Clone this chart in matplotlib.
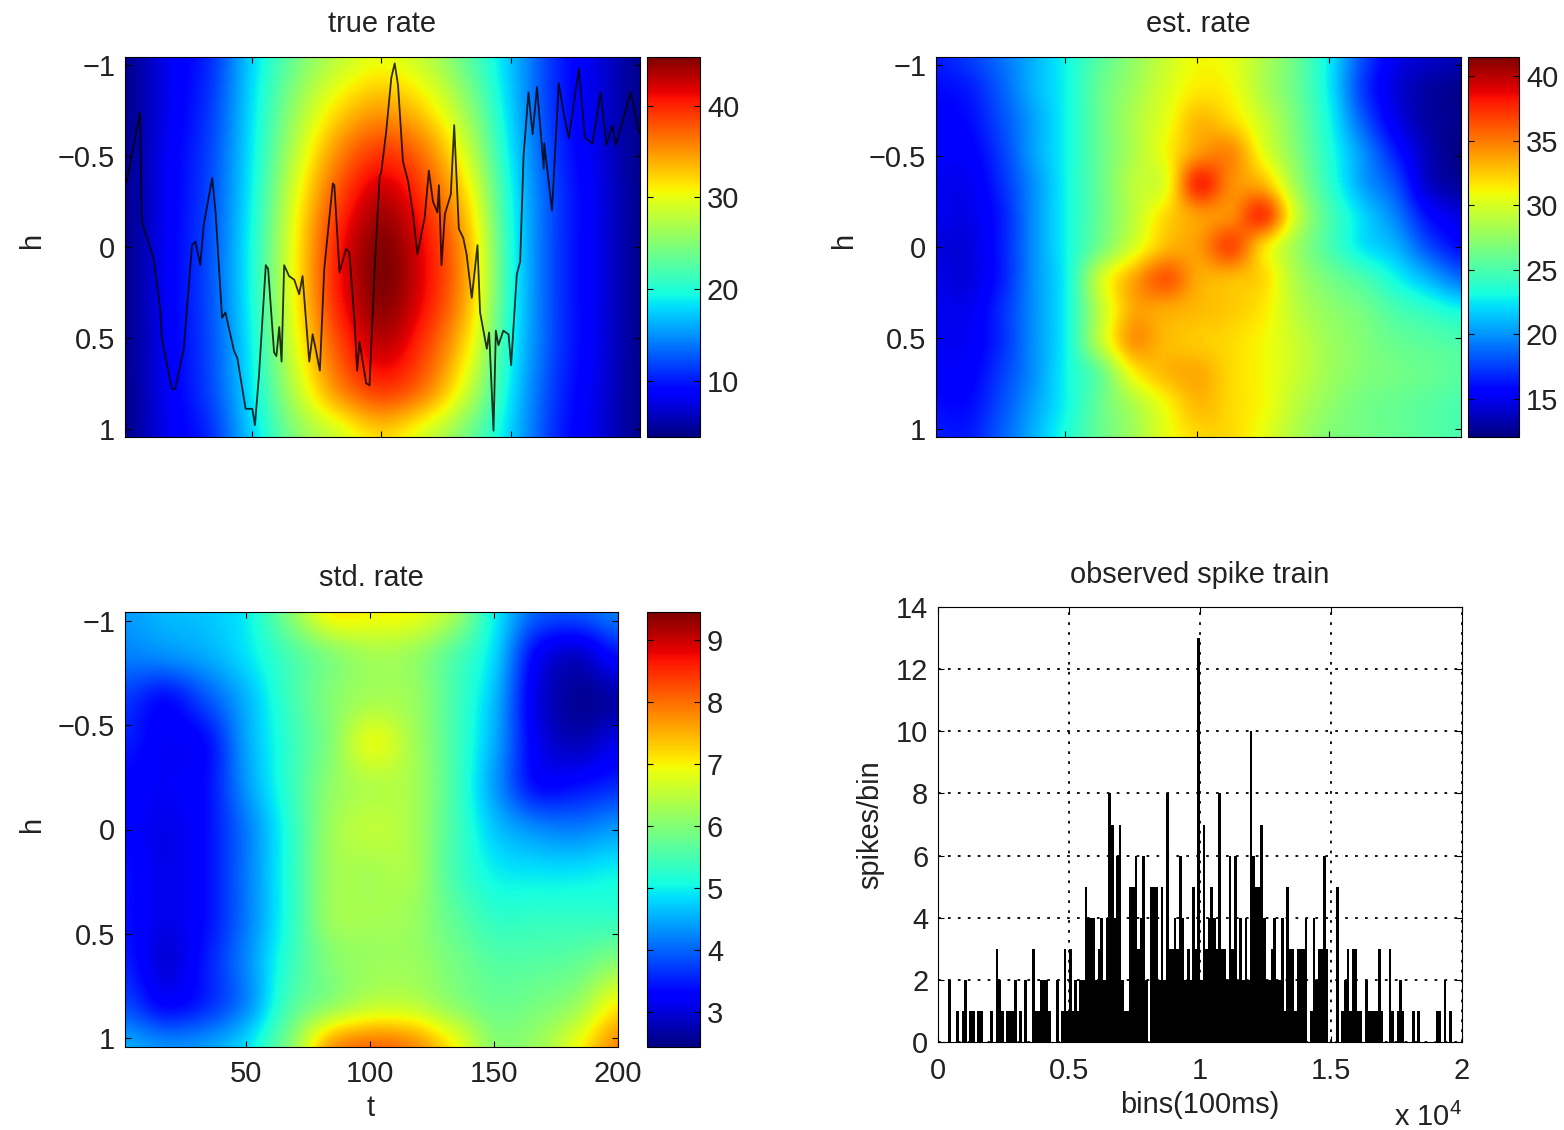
import numpy as np
import matplotlib
matplotlib.use('Agg')
import matplotlib.pyplot as plt
from matplotlib.colors import Normalize

plt.rcParams['font.family'] = ['Liberation Sans', 'DejaVu Sans']
plt.rcParams['mathtext.default'] = 'regular'
plt.rcParams['text.color'] = '#222222'
plt.rcParams['axes.labelcolor'] = '#222222'
plt.rcParams['xtick.labelcolor'] = '#222222'
plt.rcParams['ytick.labelcolor'] = '#222222'

# rate surfaces on a coarse grid
true_rate = [
    [4.5, 8.0, 11.0, 18.0, 24.0, 28.0, 30.0, 28.0, 23.0, 17.0, 11.0, 7.5, 4.5],
    [4.5, 8.0, 11.5, 18.5, 26.0, 31.5, 34.0, 31.5, 25.5, 17.5, 11.0, 7.5, 4.5],
    [4.5, 8.3, 12.0, 19.0, 28.0, 35.5, 39.0, 36.0, 28.5, 18.5, 11.5, 7.7, 4.5],
    [4.5, 8.4, 12.3, 19.5, 30.0, 38.5, 43.0, 39.0, 31.5, 19.5, 12.0, 8.0, 4.5],
    [4.5, 8.5, 12.5, 20.0, 31.0, 40.5, 45.0, 41.0, 33.5, 20.0, 12.0, 8.0, 4.5],
    [4.5, 8.5, 12.5, 20.0, 31.0, 40.5, 45.0, 41.0, 33.5, 20.0, 12.0, 8.0, 4.5],
    [4.5, 8.4, 12.3, 19.5, 30.0, 38.5, 43.0, 39.0, 31.5, 19.5, 12.0, 8.0, 4.5],
    [4.5, 8.3, 12.0, 19.0, 28.0, 35.5, 39.0, 36.0, 28.5, 18.5, 11.5, 7.7, 4.5],
    [4.5, 8.0, 11.0, 18.0, 25.0, 29.0, 32.0, 29.0, 24.0, 17.5, 11.0, 7.5, 4.5],
]

est_rate = [
    [16.5, 17.5, 19.0, 21.0, 23.0, 25.5, 27.5, 29.5, 31.0, 30.5, 28.5, 26.0, 22.5, 18.0, 15.0, 14.0, 13.5],
    [16.0, 16.5, 18.5, 21.0, 23.0, 26.0, 28.0, 30.0, 31.5, 31.0, 28.5, 26.0, 22.5, 17.5, 14.5, 13.0, 12.5],
    [15.5, 16.0, 18.0, 20.5, 23.0, 26.0, 28.5, 30.5, 33.0, 32.0, 29.5, 26.5, 23.0, 18.5, 15.0, 13.0, 12.5],
    [15.5, 15.5, 17.5, 20.5, 23.0, 26.0, 28.5, 31.0, 34.0, 34.5, 30.5, 27.0, 23.5, 20.0, 16.5, 13.5, 12.2],
    [15.0, 15.0, 17.0, 20.0, 23.0, 26.0, 29.0, 30.5, 37.5, 34.5, 33.0, 28.0, 24.0, 20.5, 18.0, 14.0, 12.8],
    [15.0, 14.8, 16.5, 20.0, 23.0, 26.0, 29.0, 32.0, 34.0, 34.5, 37.0, 29.5, 25.0, 22.0, 19.5, 16.0, 14.5],
    [14.5, 14.5, 16.5, 20.0, 23.0, 26.5, 30.0, 33.0, 34.0, 36.5, 32.0, 28.0, 25.0, 22.5, 21.0, 18.0, 16.0],
    [14.8, 14.5, 16.5, 20.0, 23.0, 29.5, 33.5, 36.0, 33.5, 33.0, 32.0, 28.5, 26.5, 25.0, 23.0, 21.0, 19.0],
    [15.0, 15.0, 17.0, 20.0, 23.0, 29.0, 33.5, 33.5, 33.0, 32.5, 31.5, 29.0, 27.5, 26.5, 25.0, 24.0, 23.0],
    [15.0, 15.2, 17.0, 20.0, 23.0, 29.0, 34.0, 33.0, 32.5, 32.0, 31.0, 29.5, 28.0, 27.0, 26.0, 25.5, 25.0],
    [15.5, 15.5, 17.5, 20.0, 23.0, 26.0, 31.0, 33.0, 33.5, 32.0, 31.0, 29.5, 28.0, 27.0, 26.5, 26.0, 25.5],
    [16.0, 16.0, 18.0, 20.5, 23.0, 26.0, 28.5, 31.0, 33.0, 32.0, 31.0, 29.0, 27.5, 26.5, 26.0, 25.5, 25.0],
    [16.5, 16.5, 18.5, 21.0, 23.5, 26.0, 28.0, 30.5, 32.0, 32.0, 30.5, 28.5, 27.0, 26.5, 26.0, 25.5, 25.0],
]

std_rate = [
    [4.4, 4.6, 4.7, 5.0, 6.0, 7.0, 7.0, 6.9, 6.3, 5.0, 4.0, 3.9, 4.2],
    [4.2, 4.3, 4.5, 4.9, 5.5, 6.0, 6.3, 6.2, 5.6, 4.8, 3.3, 2.9, 3.4],
    [3.7, 3.4, 3.9, 4.6, 5.4, 6.0, 6.3, 6.2, 5.5, 4.6, 3.1, 2.6, 2.7],
    [3.5, 3.2, 3.4, 4.5, 5.3, 6.0, 6.8, 6.3, 5.5, 4.5, 3.2, 2.8, 3.1],
    [3.3, 3.2, 3.4, 4.4, 5.3, 6.1, 6.4, 6.3, 5.5, 4.4, 3.4, 3.4, 3.6],
    [3.3, 3.1, 3.4, 4.2, 5.2, 6.2, 6.5, 6.3, 5.5, 4.7, 4.3, 4.2, 4.4],
    [3.4, 3.1, 3.4, 4.2, 5.2, 6.2, 6.3, 6.3, 5.5, 5.0, 4.9, 4.9, 5.0],
    [3.4, 3.1, 3.4, 4.2, 5.2, 6.2, 6.3, 6.2, 5.7, 5.3, 5.3, 5.3, 5.3],
    [3.5, 3.0, 3.5, 4.3, 5.3, 6.0, 6.2, 6.2, 5.9, 5.6, 5.6, 5.7, 6.0],
    [3.8, 3.3, 3.6, 4.3, 5.5, 6.1, 6.5, 6.5, 6.1, 5.8, 5.9, 6.2, 7.0],
    [4.5, 4.3, 4.4, 4.9, 6.0, 7.6, 8.0, 7.8, 7.0, 6.1, 6.2, 6.9, 7.8],
]

# black trace over the true rate
path_t = [1.7, 4.9, 6.8, 7.5, 12.0, 14.6, 15.2, 19.1, 20.4, 23.7, 26.9, 28.2, 30.1, 31.4, 34.7, 36.0,
          38.5, 39.8, 43.1, 44.4, 47.6, 50.2, 51.2, 52.8, 55.4, 56.3, 58.6, 59.5, 60.6, 61.5, 62.5,
          64.4, 66.4, 68.3, 69.6, 71.6, 72.2, 73.5, 74.8, 76.3, 78.0, 81.3, 81.9, 83.9, 86.4, 87.7,
          89.7, 90.7, 91.6, 94.2, 95.5, 97.4, 99.4, 100.0, 101.9, 103.9, 105.2, 106.5, 108.4, 110.4,
          112.3, 114.0, 116.2, 116.8, 118.4, 120.0, 121.7, 122.3, 123.3, 124.6, 126.9, 128.2, 130.0,
          131.7, 133.0, 135.0, 137.2, 138.2, 140.8, 141.7, 143.4, 144.3, 145.3, 147.2, 149.2, 150.2,
          152.4, 153.7, 155.0, 156.9, 158.5, 160.2, 162.8, 163.0, 166.0, 168.6, 170.6, 172.5, 176.4,
          178.7, 181.6, 184.8, 187.0, 189.3, 190.6, 196.4, 199.7]
path_h = [-0.36, -0.60, -0.74, -0.14, 0.06, 0.34, 0.50, 0.78, 0.78, 0.56, -0.01, -0.03, 0.10, -0.12, -0.38, -0.19,
          0.39, 0.36, 0.57, 0.61, 0.89, 0.89, 0.98, 0.70, 0.10, 0.12, 0.58, 0.60, 0.44, 0.63, 0.10,
          0.16, 0.18, 0.26, 0.16, 0.52, 0.63, 0.48, 0.57, 0.68, 0.12, -0.35, -0.34, 0.14, 0.01, 0.03,
          0.41, 0.68, 0.52, 0.75, 0.76, 0.14, -0.39, -0.41, -0.63, -0.93, -1.01, -0.89, -0.47, -0.36,
          -0.18, 0.04, -0.12, -0.16, -0.42, -0.25, -0.19, -0.34, 0.10, -0.18, -0.29, -0.67, -0.10,
          -0.05, 0.04, 0.28, -0.01, 0.36, 0.56, 0.47, 1.01, 0.46, 0.54, 0.46, 0.48, 0.65,
          0.15, 0.08, -0.50, -0.85, -0.62, -0.88, -0.43, -0.57, -0.20, -0.90, -0.73, -0.60, -0.98,
          -0.60, -0.57, -0.85, -0.56, -0.67, -0.56, -0.85, -0.63]

# spikes per bin, one value per 100 units of x
spike_counts = [
    0, 0, 0, 0, 2, 0, 0, 1, 0, 1,
    2, 0, 1, 1, 0, 1, 1, 0, 0, 0,
    1, 0, 3, 2, 1, 0, 1, 1, 1, 2,
    0, 1, 0, 2, 0, 0, 3, 1, 1, 2,
    2, 2, 1, 0, 0, 2, 0, 1, 3, 1,
    3, 1, 2, 1, 2, 2, 5, 4, 4, 4,
    2, 3, 4, 2, 4, 8, 7, 4, 6, 7,
    2, 1, 1, 5, 5, 6, 3, 4, 6, 2,
    0, 5, 5, 5, 2, 5, 2, 8, 3, 3,
    4, 3, 6, 4, 2, 3, 2, 5, 3, 13,
    2, 7, 3, 4, 5, 4, 3, 8, 3, 3,
    2, 6, 3, 6, 2, 4, 2, 4, 2, 10,
    6, 5, 5, 7, 4, 2, 2, 3, 4, 2,
    2, 4, 1, 5, 3, 3, 1, 3, 3, 3,
    4, 0, 1, 4, 2, 3, 3, 6, 3, 0,
    0, 0, 5, 0, 1, 2, 3, 1, 3, 3,
    1, 1, 0, 2, 1, 1, 1, 1, 3, 1,
    0, 0, 3, 1, 0, 1, 2, 1, 0, 0,
    0, 1, 0, 1, 0, 0, 0, 0, 0, 0,
    1, 1, 0, 2, 0, 1, 0, 0, 0, 0,
]

h_ticks = [-1, -0.5, 0, 0.5, 1]
h_labels = ['\u22121', '\u22120.5', '0', '0.5', '1']
t_ticks = [50, 100, 150]
spike_xticks = [0, 5000, 10000, 15000, 20000]
spike_xlabels = ['0', '0.5', '1', '1.5', '2']
spike_yticks = [0, 2, 4, 6, 8, 10, 12, 14]

W, H = 1564, 1130
FS = 20.9


def px_axes(fig, left, top, right, bottom):
    return fig.add_axes([left / W, 1 - bottom / H, (right - left) / W, (bottom - top) / H])


def rate_panel(fig, box, cbox, data, vmin, vmax, cticks, title, title_pad):
    data = np.array(data)
    ax = px_axes(fig, *box)
    dt = 199.0 / (data.shape[1] - 1)
    dh = 2.09 / (data.shape[0] - 1)
    # catrom goes through the grid values, bicubic flattens the peaks
    im = ax.imshow(data, cmap='jet', norm=Normalize(vmin, vmax), aspect='auto', interpolation='catrom',
                   extent=(1 - dt / 2, 200 + dt / 2, 1.045 + dh / 2, -1.045 - dh / 2))
    ax.set_xlim(1, 200)
    ax.set_ylim(1.045, -1.045)
    ax.set_yticks(h_ticks)
    ax.set_yticklabels(h_labels)
    ax.set_xticks(t_ticks)
    ax.tick_params(direction='in', top=True, right=True, length=4, width=0.8, labelsize=FS, pad=7)
    ax.set_title(title, fontsize=FS, pad=title_pad)
    cax = px_axes(fig, *cbox)
    cb = fig.colorbar(im, cax=cax)
    cb.set_ticks(cticks)
    cax.tick_params(direction='in', left=True, right=True, length=4, width=0.8, labelsize=FS, pad=5)
    return ax


fig = plt.figure(figsize=(W / 100, H / 100), dpi=100)

ax1 = rate_panel(fig, (125, 57, 640, 437), (647, 57, 700, 437), true_rate, 3.9, 45.3,
                 [10, 20, 30, 40], 'true rate', 18)
ax1.set_xticklabels([])
ax1.plot(path_t, path_h, color='black', lw=1.3, alpha=0.8)
fig.text(32 / W, 1 - 240 / H, 'h', rotation=90, fontsize=FS, ha='center', va='center')

ax2 = rate_panel(fig, (936, 57, 1461, 437), (1468, 57, 1519, 437), est_rate, 12.05, 41.5,
                 [15, 20, 25, 30, 35, 40], 'est. rate', 18)
ax2.set_xticklabels([])
fig.text(844 / W, 1 - 240 / H, 'h', rotation=90, fontsize=FS, ha='center', va='center')

ax3 = rate_panel(fig, (125, 612, 618, 1047), (647, 612, 700, 1047), std_rate, 2.44, 9.45,
                 [3, 4, 5, 6, 7, 8, 9], 'std. rate', 19)
ax3.set_xticks(t_ticks + [200])
ax3.set_xticklabels(['50', '100', '150', '200'])
ax3.tick_params(axis='x', pad=9)
fig.text(371 / W, 1 - 1108 / H, 't', fontsize=FS, ha='center', va='center')
fig.text(32 / W, 1 - 824 / H, 'h', rotation=90, fontsize=FS, ha='center', va='center')

ax4 = px_axes(fig, 938, 607, 1462, 1042)
bin_edges = np.arange(len(spike_counts) + 1) * 100
ax4.stairs(spike_counts, bin_edges, fill=True, color='black', zorder=2)
ax4.set_xlim(0, 20000)
ax4.set_ylim(0, 14)
ax4.set_xticks(spike_xticks)
ax4.set_xticklabels(spike_xlabels)
ax4.set_yticks(spike_yticks)
ax4.grid(True, color='black', linestyle=(0, (1.5, 4)), linewidth=1.3, zorder=1)
ax4.set_axisbelow(True)
ax4.tick_params(direction='in', top=True, right=True, length=4, width=0.8, labelsize=FS, pad=7)
ax4.tick_params(axis='x', pad=11)
ax4.set_title('observed spike train', fontsize=FS, pad=17)
fig.text(1200 / W, 1 - 1105 / H, 'bins(100ms)', fontsize=FS, ha='center', va='center')
fig.text(870 / W, 1 - 825 / H, 'spikes/bin', rotation=90, fontsize=FS, ha='center', va='center')
fig.text(1462 / W, 1 - 1126 / H, 'x 10$^{4}$', fontsize=FS, ha='right', va='baseline')

fig.savefig('out.png', dpi=100)
